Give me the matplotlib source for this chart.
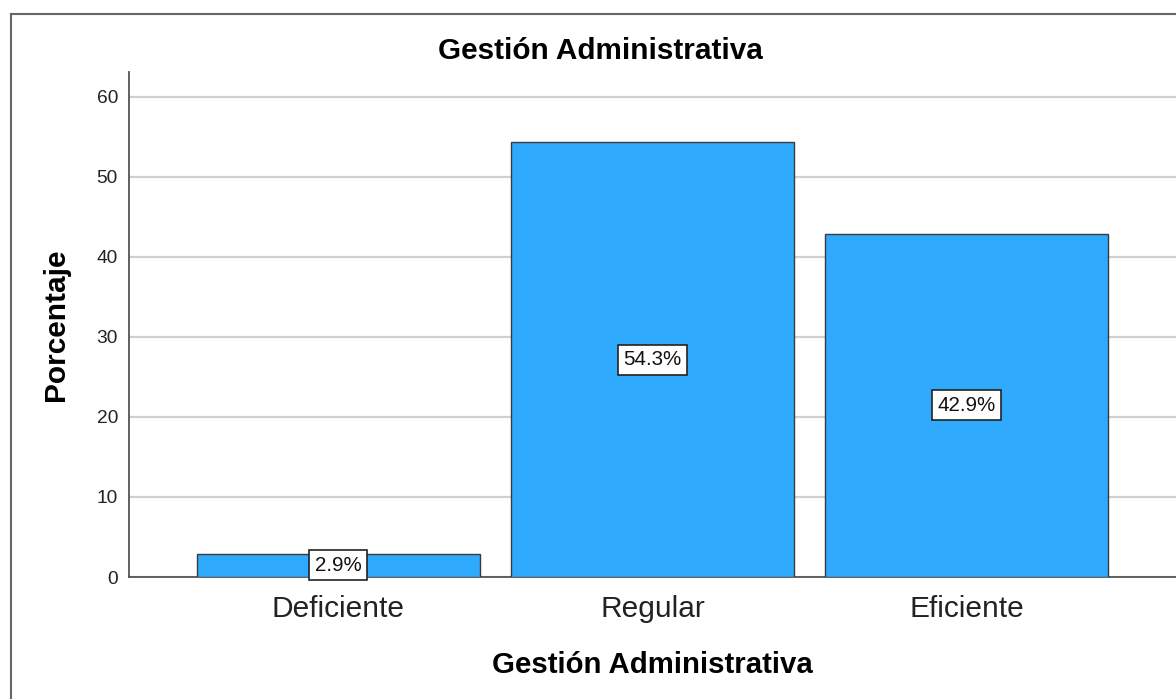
import matplotlib.pyplot as plt
from matplotlib.lines import Line2D

plt.rcParams['font.family'] = ['Liberation Sans', 'DejaVu Sans']

categorias = ['Deficiente', 'Regular', 'Eficiente']
porcentajes = [2.9, 54.3, 42.9]
etiquetas = ['2.9%', '54.3%', '42.9%']
yticks = [0, 10, 20, 30, 40, 50, 60]

W, H = 1176, 699
fig = plt.figure(figsize=(W / 100, H / 100), dpi=100)
ax = fig.add_axes([129 / W, (H - 577) / H, (W - 129) / W, (577 - 72) / H])

x = list(range(len(categorias)))
ax.bar(x, porcentajes, width=0.9, color='#30aafd', edgecolor='#3a3a3a',
       linewidth=1.0, zorder=3)

# etiquetas en el centro de cada barra
for xi, v, t in zip(x, porcentajes, etiquetas):
    ax.text(xi, v / 2, t, ha='center', va='center', fontsize=14.8,
            color='#111111', zorder=4,
            bbox=dict(boxstyle='square,pad=0.27', facecolor='white',
                      edgecolor='#222222', linewidth=1.2))

ax.set_xlim(-0.666, 2.666)
ax.set_ylim(0, 63.1)
ax.set_yticks(yticks)
ax.set_xticks(x)
ax.set_xticklabels(categorias, fontsize=21.5, color='#222222')
ax.tick_params(axis='y', length=0, pad=8, labelsize=13.8, labelcolor='#222222')
ax.tick_params(axis='x', length=0, pad=13)
ax.yaxis.grid(True, color='#d0d0d0', linewidth=1.6, zorder=0)
ax.set_axisbelow(True)

for s in ['top', 'right']:
    ax.spines[s].set_visible(False)
for s in ['left', 'bottom']:
    ax.spines[s].set_color('#555555')
    ax.spines[s].set_linewidth(1.3)

ax.set_ylabel('Porcentaje', fontsize=21.5, fontweight='bold', labelpad=19)
ax.set_xlabel('Gestión Administrativa', fontsize=21.2, fontweight='bold',
              labelpad=20)
fig.text(600 / W, 1 - 51 / H, 'Gestión Administrativa', ha='center',
         va='center', fontsize=21.4, fontweight='bold')

# marco exterior del gráfico
fig.add_artist(Line2D([11 / W, 11 / W], [0, 1 - 14 / H], color='#666666',
                      linewidth=1.5, transform=fig.transFigure))
fig.add_artist(Line2D([11 / W, 1], [1 - 14 / H, 1 - 14 / H], color='#666666',
                      linewidth=1.5, transform=fig.transFigure))

fig.savefig('out.png', dpi=100)
